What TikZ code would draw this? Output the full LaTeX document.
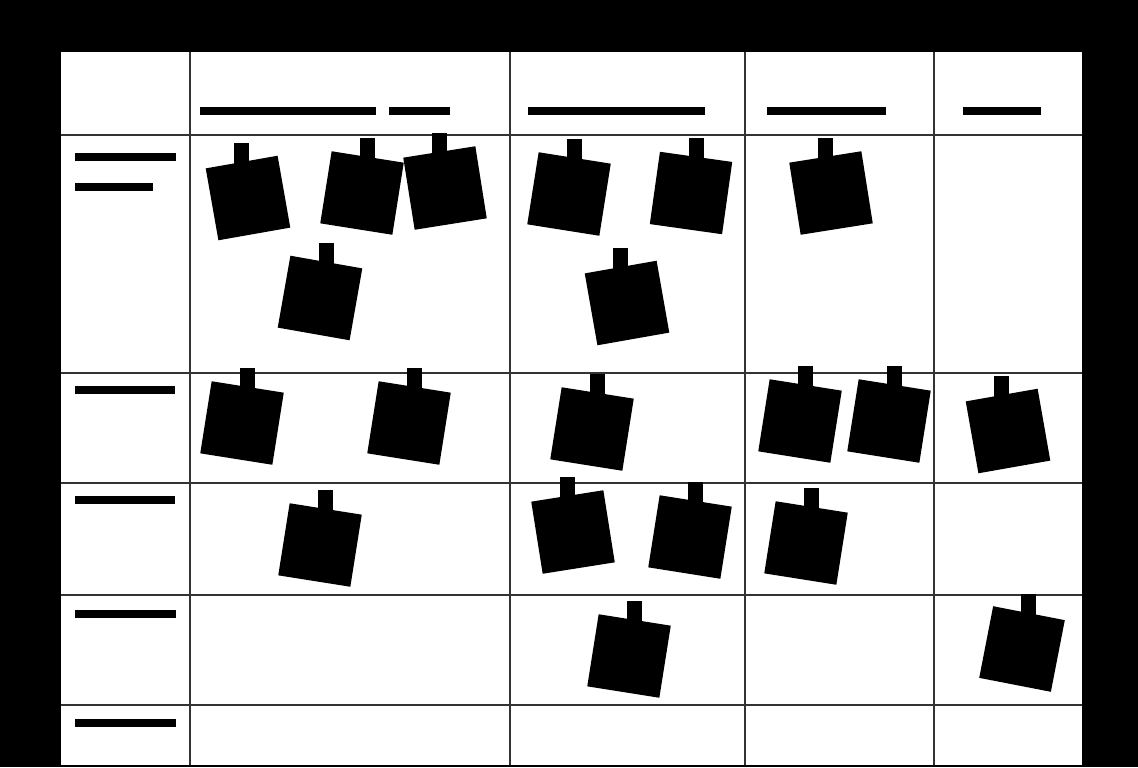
\documentclass[tikz,border=0pt]{standalone}
\usetikzlibrary{calc}

\tikzset{
  gridline/.style={black!80, line width=0.05cm},
  bar/.style={black, line width=0.17cm},
  note/.style={fill=black, minimum size=1.46cm, inner sep=0pt, outer sep=0pt},
}

\begin{document}
\begin{tikzpicture}[x=0.02cm,y=-0.02cm]
        % Board with black frame
        \fill[black] (0,0) rectangle (1138,767);
        \fill[white] (61,52) rectangle (1082,765);
        \foreach \x in {190,510,745,934} \draw[gridline] (\x,52) -- (\x,765);
        \foreach \y in {135,373,483,595,705} \draw[gridline] (61,\y) -- (1082,\y);

        % Column headings
        \draw[bar] (200,111) -- (376,111);
        \draw[bar] (389,111) -- (450,111);
        \draw[bar] (528,111) -- (705,111);
        \draw[bar] (767,111) -- (886,111);
        \draw[bar] (963,111) -- (1041,111);
        % Row headings
        \foreach \y/\w in {157/176,187/153,390/175,500/175,614/176,723/176}
            \draw[bar] (75,\y) -- (\w,\y);

        % Pinned notes (centre x, centre y, tilt)
        \foreach \x/\y/\a [count=\i] in {248/198/10, 362/193/-9, 445/188/9, 320/298/-10,
                569/194/-9, 691/193/-8, 627/303/10, 831/193/9,
                242/423/-9, 409/423/-9, 592/429/-9, 800/421/-9, 889/421/-9, 1008/431/10,
                320/545/-9, 573/532/9, 690/537/-9, 806/543/-9,
                629/656/-9, 1022/649/-11} {
            \node[note, rotate=\a] (n\i) at (\x,\y) {};
            \fill ($(n\i.north)+(-7.5,-19)$) rectangle ++(15,24);
        }
\end{tikzpicture}
\end{document}
